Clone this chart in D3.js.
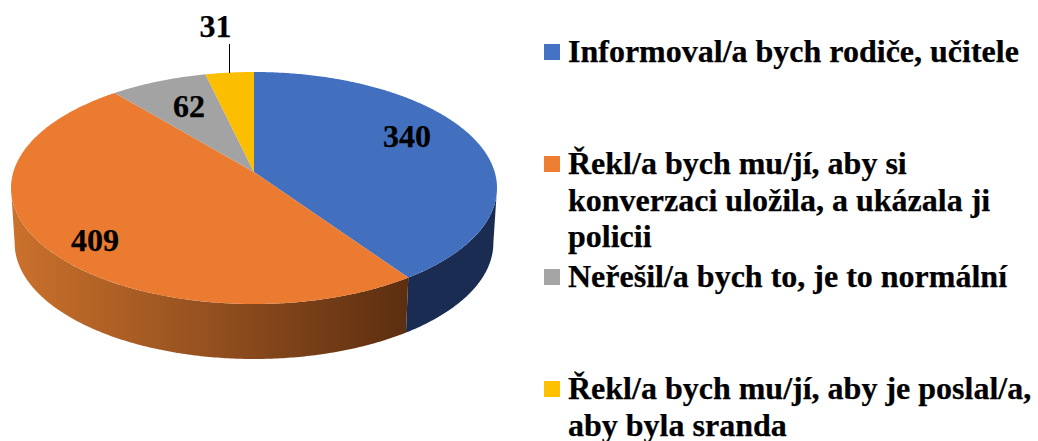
<!DOCTYPE html>
<html>
<head>
<meta charset="utf-8">
<script src="https://cdn.jsdelivr.net/npm/d3@7"></script>
<style>
html,body{margin:0;padding:0;background:#fff;}
svg{display:block;}
text{font-family:"Liberation Serif","Times New Roman",serif;font-weight:bold;fill:#000;stroke:#000;stroke-width:.25px;}
</style>
</head>
<body>
<svg id="chart" width="1038" height="441"></svg>
<script>
var categories = ["Informoval/a bych rodiče, učitele",
	"Řekl/a bych mu/jí, aby si konverzaci uložila, a ukázala ji policii",
	"Neřešil/a bych to, je to normální",
	"Řekl/a bych mu/jí, aby je poslal/a, aby byla sranda"];
var values = [340,409,62,31];
var colors = ["#4472C4","#ED7D31","#A5A5A5","#FFC000"];
var faceColors = ["#4270BF","#EA7B30","#A3A3A3","#FBBE00"];
var legendLines = [
	["Informoval/a bych rodiče, učitele"],
	["Řekl/a bych mu/jí, aby si","konverzaci uložila, a ukázala ji","policii"],
	["Neřešil/a bych to, je to normální"],
	["Řekl/a bych mu/jí, aby je poslal/a,","aby byla sranda"]
];

// layout, not data
var FONT=32, LINE=36.7,
	CX=254, APEX_Y=172, TOP_BACK=72, TOP_FRONT=304, RX=243, DEPTH=55;
var legendY=[62,174,287,399], LEGEND_BOX_X=544, LEGEND_TEXT_X=568;
var labelPos=[{x:407,y:147},{x:95,y:251},{x:189,y:117},{x:215.5,y:37}];

var svg=d3.select("#chart");

// tilted disc: a circle under perspective, fitted to the top face
var P=(TOP_BACK+TOP_FRONT-2*APEX_Y)/(TOP_FRONT-TOP_BACK);
var B=TOP_BACK*(1+P)-APEX_Y;
var C=RX*Math.sqrt(1-P*P);

function topPoint(t){
	var u=Math.sin(t), v=Math.cos(t), w=1+P*v;
	return [CX+C*u/w,(APEX_Y+B*v)/w];
}
function bottomPoint(t){
	var p=topPoint(t);
	return [CX+(p[0]-CX)*0.985,p[1]+DEPTH];
}
function arcPoints(fn,a,b){
	var n=Math.max(2,Math.ceil(Math.abs(b-a)/0.01));
	return d3.range(n+1).map(function(i){return fn(a+(b-a)*i/n);});
}

var line=d3.line();
var arcs=d3.pie().sort(null).value(function(d){return d;})(values);

// side wall gradient of the orange slice
var defs=svg.append("defs");
var grad=defs.append("linearGradient").attr("id","orangeSide")
	.attr("gradientUnits","userSpaceOnUse")
	.attr("x1",11).attr("x2",408).attr("y1",0).attr("y2",0);
grad.append("stop").attr("offset","0%").attr("stop-color","#CB712C");
grad.append("stop").attr("offset","50%").attr("stop-color","#94501F");
grad.append("stop").attr("offset","100%").attr("stop-color","#5C2E10");
var sideFill=["#1A2C51","url(#orangeSide)"];

// side walls first, top face goes over them
// walls run between the widest points of the disc
var FRONT_A=Math.acos(-P), FRONT_B=2*Math.PI-FRONT_A;
arcs.forEach(function(d,i){
	var a=Math.max(d.startAngle,FRONT_A), b=Math.min(d.endAngle,FRONT_B);
	if(a>=b){return;}
	var pts=arcPoints(topPoint,a,b).concat(arcPoints(bottomPoint,b,a));
	svg.append("path").attr("class","side")
		.attr("d",line(pts)+"Z")
		.attr("fill",sideFill[i]||colors[i]);
});

svg.selectAll("path.slice").data(arcs).enter().append("path")
	.attr("class","slice")
	.attr("fill",function(d,i){return faceColors[i];})
	.attr("d",function(d){
		var pts=[[CX,APEX_Y]].concat(arcPoints(topPoint,d.startAngle,d.endAngle));
		return line(pts)+"Z";
	});

// leader line of the small slice
svg.append("line").attr("x1",229.5).attr("x2",229.5).attr("y1",44).attr("y2",73)
	.attr("stroke","#000").attr("stroke-width",1);

svg.selectAll("text.val").data(values).enter().append("text")
	.attr("class","val")
	.attr("x",function(d,i){return labelPos[i].x;})
	.attr("y",function(d,i){return labelPos[i].y;})
	.attr("text-anchor","middle")
	.attr("font-size",FONT)
	.text(function(d){return d;});

var legend=svg.selectAll("g.legend").data(categories).enter().append("g").attr("class","legend");
legend.append("rect")
	.attr("x",LEGEND_BOX_X)
	.attr("y",function(d,i){return legendY[i]-18;})
	.attr("width",16).attr("height",16)
	.attr("fill",function(d,i){return colors[i];});
legend.each(function(d,i){
	d3.select(this).selectAll("text").data(legendLines[i]).enter().append("text")
		.attr("x",LEGEND_TEXT_X)
		.attr("y",function(s,j){return legendY[i]+j*LINE;})
		.attr("font-size",FONT)
		.text(function(s){return s;});
});
</script>
</body>
</html>
